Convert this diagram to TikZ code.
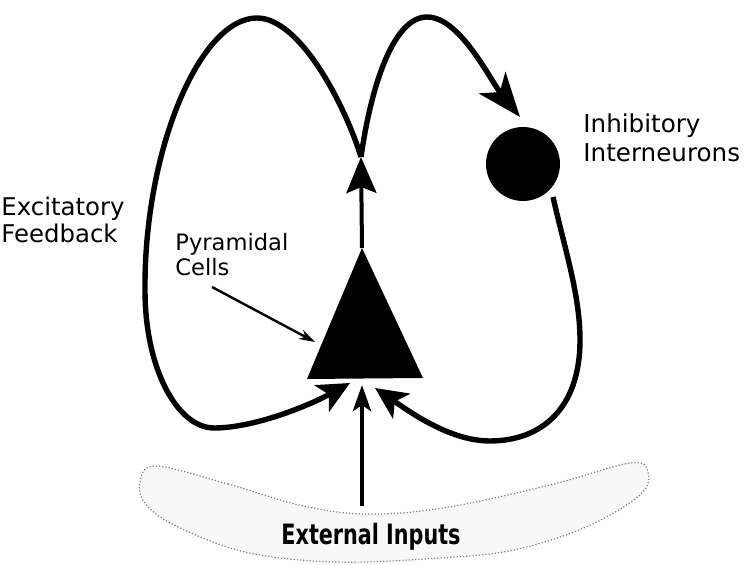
\documentclass[tikz,border=0pt]{standalone}
\usepackage{fontspec}
\setmainfont{DejaVu Sans}
\usepackage{graphicx}
\usepackage{tikz}
\usetikzlibrary{arrows.meta, positioning}
\definecolor{inputgray}{RGB}{125,125,125}
\definecolor{inputfill}{RGB}{248,248,248}

\begin{document}
\begin{tikzpicture}[x=0.5pt, y=-0.5pt,
    fiber/.style={line width=2.7pt},
    lbl/.style={inner sep=0pt, align=left, anchor=north west,
                font=\fontsize{12.3}{14.5}\selectfont}]
  \useasboundingbox (0,0) rectangle (745,565);
  % External inputs
  \draw[inputgray, densely dotted, line width=0.6pt, fill=inputfill]
    plot[smooth cycle, tension=0.6] coordinates {
      (156,466) (228,484) (299,505) (364,514) (443,508) (550,485)
      (630,463) (648,472) (640,495) (586,527) (514,550) (440,558)
      (335,562) (245,552) (174,525) (145,503) (140,482)};
  \node[inner sep=0pt, anchor=base, font=\fontsize{14}{16}\selectfont\bfseries]
    (ext) at (371,545) {\scalebox{0.74}[1]{External Inputs}};
  % Pyramidal cell and interneuron
  \coordinate (apex) at (362,248);
  \fill (307,379) -- (apex) -- (423,378) -- cycle;
  \node[circle, fill=black, minimum size=37pt, inner sep=0pt] (inh) at (523,164) {};
  \coordinate (cross) at (361,157);
  \coordinate (tipL) at (350,383);
  \coordinate (tipM) at (362,385);
  \coordinate (tipR) at (375,388);
  \coordinate (inp) at (362,506);
  \coordinate (pyrfrom) at (212,287);
  \coordinate (pyrto) at (315,342);
  % Axon
  \draw[line width=2pt, -{Stealth[length=18pt, width=15pt, inset=3pt]}] (apex) -- (cross);
  % Excitatory feedback
  \draw[fiber, -{Stealth[length=16pt, width=15pt, inset=4pt]}] (cross)
    .. controls (345,105) and (300,18) .. (257,18)
    .. controls (200,18) and (144,150) .. (145,290)
    .. controls (145,370) and (178,428) .. (214,428)
    .. controls (255,428) and (310,405) .. (tipL);
  % Inhibitory loop
  \draw[fiber, -{Stealth[length=22pt, width=17pt, inset=6pt]}] (cross)
    .. controls (372,80) and (395,17) .. (427,17)
    .. controls (460,17) and (490,80) .. (520,117);
  \draw[fiber, -{Stealth[length=16pt, width=15pt, inset=4pt]}] (553,197)
    .. controls (565,250) and (580,295) .. (580,340)
    .. controls (580,410) and (540,441) .. (490,441)
    .. controls (450,441) and (410,412) .. (tipR);
  % External drive
  \draw[line width=2.4pt, -{Stealth[length=13pt, width=9pt, inset=3pt]}] (inp) -- (tipM);
  % Labels
  \node[lbl] (inhlbl) at (583,113) {Inhibitory\\Interneurons};
  \node[lbl, font=\fontsize{12.2}{13.5}\selectfont] (exclbl) at (1,197) {Excitatory\\Feedback};
  \node[lbl, font=\fontsize{11.3}{12.5}\selectfont] (pyrlbl) at (175,233) {Pyramidal\\Cells};
  \draw[line width=1.2pt, -{Stealth[length=8pt, width=5pt]}] (pyrfrom) -- (pyrto);
\end{tikzpicture}
\end{document}
